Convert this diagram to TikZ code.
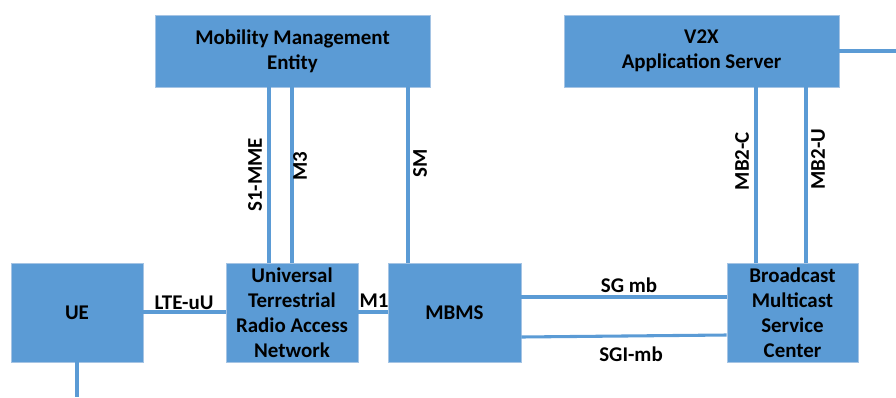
\documentclass[tikz,border=0pt]{standalone}
\usepackage{fontspec}
\setmainfont{Carlito}
\usetikzlibrary{fit}
\definecolor{boxblue}{RGB}{91,155,213}
\definecolor{boxedge}{RGB}{165,196,228}
\begin{document}
\begin{tikzpicture}[x=0.75pt,y=-0.75pt,
  box/.style={fill=boxblue,draw=boxedge,line width=0.6pt,inner sep=0pt},
  btext/.style={inner sep=0pt,align=center,
    font=\fontsize{15.7}{18.8}\selectfont\bfseries},
  link/.style={draw=boxblue,line width=2.3pt},
  lab/.style={inner sep=0pt,font=\fontsize{15.7}{18.8}\selectfont\bfseries}]
\useasboundingbox (0,0) rectangle (896,397);
\node[box,fit={(155,15) (430,87)}] (mme) {};
\node[box,fit={(564,15) (839,87)}] (v2x) {};
\node[box,fit={(11,263) (143,362)}] (ue) {};
\node[box,fit={(226,263) (358,362)}] (utran) {};
\node[box,fit={(388,263) (521,362)}] (mbms) {};
\node[box,fit={(727,263) (858,362)}] (bmsc) {};
\node[btext] (mmet) at (mme.center) {Mobility Management\\Entity};
\node[btext] (v2xt) at (v2x.center) {V2X\\Application Server};
\node[btext] (uet) at (ue.center) {UE};
\node[btext] (utrant) at (utran.center) {Universal\\Terrestrial\\Radio Access\\Network};
\node[btext] (mbmst) at (mbms.center) {MBMS};
\node[btext] (bmsct) at (bmsc.center) {Broadcast\\Multicast\\Service\\Center};
\coordinate (rightend) at (896,51);
\coordinate (uebot) at (77,397);
% vertical links
\draw[link] (269,0 |- mme.south) -- (269,0 |- utran.north);
\draw[link] (292,0 |- mme.south) -- (292,0 |- utran.north);
\draw[link] (408,0 |- mme.south) -- (408,0 |- mbms.north);
\draw[link] (756,0 |- v2x.south) -- (756,0 |- bmsc.north);
\draw[link] (806,0 |- v2x.south) -- (806,0 |- bmsc.north);
\draw[link] (v2x.east |- rightend) -- (rightend);
\draw[link] (uebot |- ue.south) -- (uebot);
% horizontal links
\draw[link] (ue.east |- 0,312) -- (utran.west |- 0,312);
\draw[link] (utran.east |- 0,312) -- (mbms.west |- 0,312);
\draw[link] (mbms.east |- 0,297) -- (bmsc.west |- 0,297);
\draw[link] (mbms.east |- 0,337) -- (bmsc.west |- 0,335);
% labels
\node[lab,rotate=90] (ls1) at (255,175) {S1-MME};
\node[lab,rotate=90] (lm3) at (300,166) {M3};
\node[lab,rotate=90] (lsm) at (420,163) {SM};
\node[lab,rotate=90] (lmb2c) at (742,161) {MB2-C};
\node[lab,rotate=90] (lmb2u) at (818,159) {MB2-U};
\node[lab] (llte) at (184,303) {LTE-uU};
\node[lab] (lm1) at (374,301) {M1};
\node[lab] (lsg) at (629,285) {SG mb};
\node[lab] (lsgi) at (631,354) {SGI-mb};
\end{tikzpicture}
\end{document}
